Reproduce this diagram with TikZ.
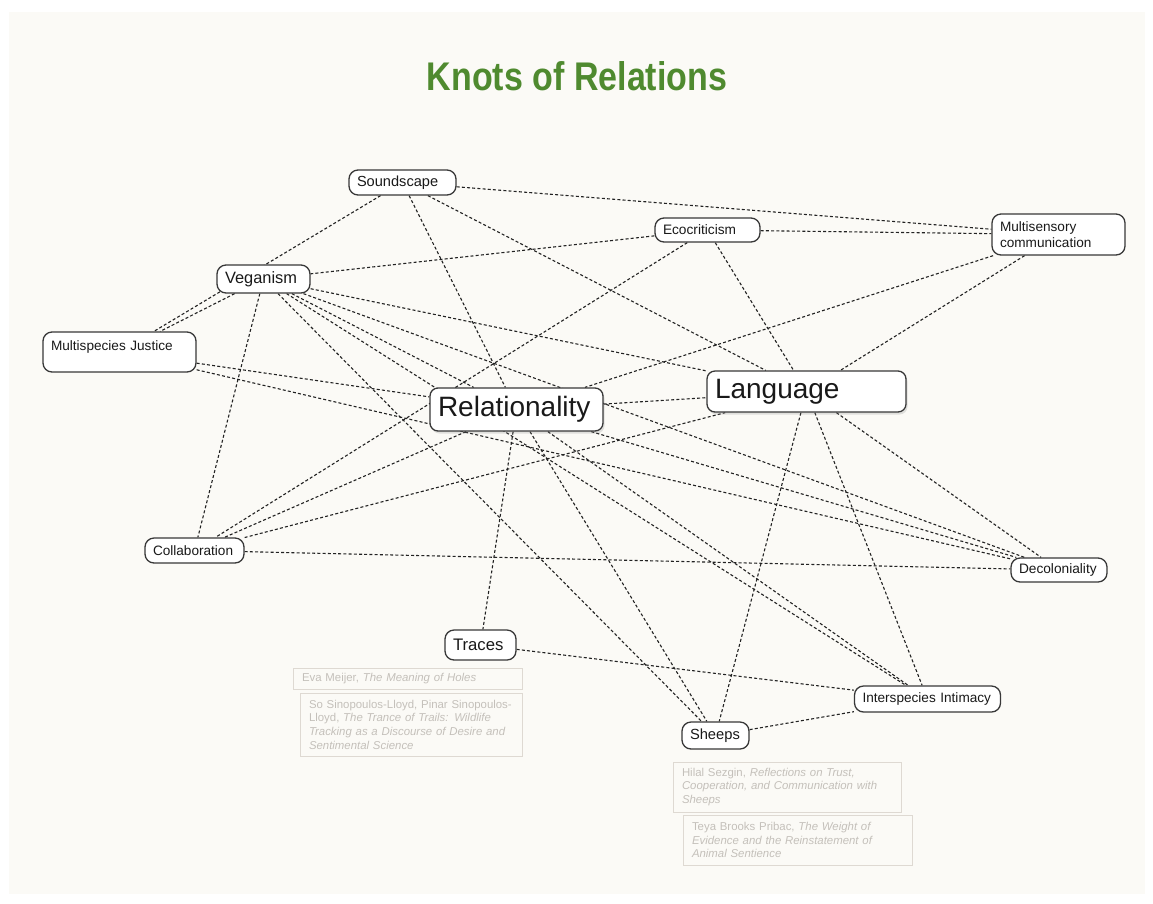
\documentclass[tikz,border=0pt]{standalone}
\usepackage{fontspec}
\setmainfont{Liberation Sans}
\usepackage{graphicx}
\usepackage{tikz}
\usetikzlibrary{shapes.geometric, positioning, shadows, backgrounds}

\definecolor{paper}{HTML}{FBFAF6}
\definecolor{titlegreen}{HTML}{4F8A2F}
\definecolor{boxline}{HTML}{383838}
\definecolor{linkgray}{HTML}{222222}
\definecolor{refgray}{HTML}{C4C0BA}
\definecolor{refline}{HTML}{DED9D2}

\newcommand{\knotfont}[2]{\fontsize{#1}{#2}\selectfont}

\begin{document}
\begin{tikzpicture}[x=1pt, y=-1pt,
    topic/.style={draw=boxline, fill=white, line width=1.3pt, rounded corners=9pt,
        inner xsep=8pt, inner ysep=0pt, align=left, text=black!90},
    big/.style={topic, rounded corners=8pt,
        drop shadow={shadow xshift=1.5pt, shadow yshift=-2.5pt, opacity=0.22}},
    link/.style={draw=linkgray, line width=1.1pt, dash pattern=on 3pt off 2.2pt},
    source/.style={draw=refline, fill=paper, line width=0.9pt, inner xsep=9pt,
        inner ysep=0pt, align=left, text=refgray, font=\knotfont{11.4}{13.7}}]

    \useasboundingbox (0,0) rectangle (1153,903);

    \node[font=\bfseries\knotfont{40}{48}, text=titlegreen] (title) at (577,76)
        {\scalebox{0.85}[1]{Knots of Relations}};

    \node[topic, text width=91pt, minimum height=25pt, font=\knotfont{14.6}{17}] (snd) at (402.5,182.5) {Soundscape};
    \node[topic, text width=89pt, minimum height=24pt, font=\knotfont{13.7}{16}] (eco) at (707.5,230) {Ecocriticism};
    \node[topic, text width=117pt, minimum height=41pt, font=\knotfont{13.6}{16}] (mul) at (1058.5,234.5) {Multisensory\\communication};
    \node[topic, text width=77pt, minimum height=28pt, font=\knotfont{16.4}{19}] (veg) at (263.5,279) {Veganism};
    \node[topic, text width=137pt, text height=18pt, text depth=22pt, font=\knotfont{13.6}{16}] (msj) at (119.5,352) {Multispecies Justice};
    \node[big, text width=157pt, minimum height=43pt, font=\knotfont{28}{32}] (rel) at (516.5,409.5) {Relationality};
    \node[big, text width=183pt, minimum height=41pt, font=\knotfont{28}{32}] (lan) at (806.5,391.5) {Language};
    \node[topic, text width=83pt, minimum height=25pt, font=\knotfont{13.6}{16}] (col) at (194.5,550.5) {Collaboration};
    \node[topic, text width=80pt, minimum height=24pt, font=\knotfont{13.7}{16}] (dec) at (1059,570) {Decoloniality};
    \node[topic, text width=55pt, minimum height=30pt, font=\knotfont{16.7}{19}] (tra) at (480.5,645) {Traces};
    \node[topic, text width=130pt, minimum height=26pt, font=\knotfont{13.6}{16}] (int) at (927.5,699) {Interspecies Intimacy};
    \node[topic, text width=51pt, minimum height=27pt, font=\knotfont{14.7}{17}] (she) at (715.5,735.5) {Sheeps};

    \node[source, text width=211pt, minimum height=21pt] (meijer) at (407.5,678.5)
        {Eva Meijer, \textit{The Meaning of Holes}};
    \node[source, text width=204pt, minimum height=63pt] (sinop) at (411,724.5)
        {So Sinopoulos-Lloyd, Pinar Sinopoulos-\\Lloyd, \textit{The Trance of Trails: Wildlife}\\\textit{Tracking as a Discourse of Desire and}\\\textit{Sentimental Science}};
    \node[source, text width=210pt, minimum height=50pt] (sezgin) at (787,787)
        {Hilal Sezgin, \textit{Reflections on Trust,}\\\textit{Cooperation, and Communication with}\\\textit{Sheeps}};
    \node[source, text width=211pt, minimum height=50pt] (pribac) at (797.5,840)
        {Teya Brooks Pribac, \textit{The Weight of}\\\textit{Evidence and the Reinstatement of}\\\textit{Animal Sentience}};

    \begin{scope}[on background layer]
    \fill[white] (0,0) rectangle (1153,903);
    \fill[paper] (9,12) rectangle (1145,894);

    \draw[link] (snd) -- (mul);
    \draw[link] (snd) -- (msj);
    \draw[link] (snd) -- (rel);
    \draw[link] (snd) -- (lan);

    \draw[link] (eco) -- (veg);
    \draw[link] (eco) -- (mul);
    \draw[link] (eco) -- (col);
    \draw[link] (eco) -- (lan);

    \draw[link] (mul) -- (rel);
    \draw[link] (mul) -- (lan);

    \draw[link] (veg) -- (msj);
    \draw[link] (veg) -- (col);
    \draw[link] (veg) -- (lan);
    \draw[link] (veg) -- (rel);
    \draw[link] (veg) -- (dec);
    \draw[link] (veg) -- (int);
    \draw[link] (veg) -- (she);

    \draw[link] (msj) -- (rel);
    \draw[link] (msj) -- (dec);

    \draw[link] (rel) -- (lan);
    \draw[link] (rel) -- (dec);
    \draw[link] (rel) -- (int);
    \draw[link] (rel) -- (she);
    \draw[link] (rel) -- (tra);
    \draw[link] (rel) -- (col);

    \draw[link] (col) -- (lan);
    \draw[link] (col) -- (dec);

    \draw[link] (lan) -- (dec);
    \draw[link] (lan) -- (int);
    \draw[link] (lan) -- (she);

    \draw[link] (tra) -- (int);
    \draw[link] (she) -- (int);
    \end{scope}
\end{tikzpicture}
\end{document}
